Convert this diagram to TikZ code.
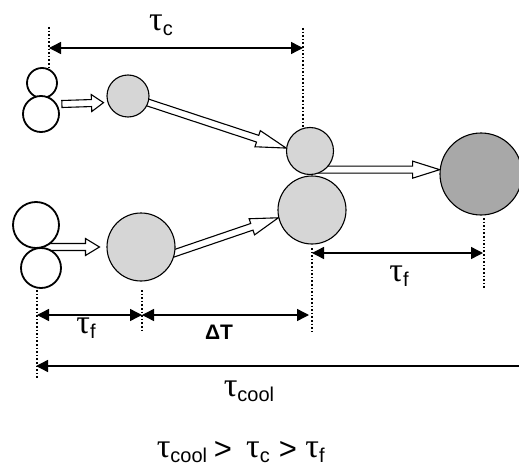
\documentclass[tikz,border=0pt]{standalone}
\usepackage{fontspec}
\setmainfont{Liberation Sans}
\newfontfamily\grkfont{Liberation Serif}
\usetikzlibrary{arrows.meta,calc,backgrounds}
\definecolor{lightball}{gray}{0.84}
\definecolor{darkball}{gray}{0.66}
\newcommand\tlab[1]{{\fontsize{34}{34}\grkfont τ}\raisebox{-5pt}{\fontsize{20}{20}\selectfont #1}}
\newcommand\gtr{{\fontsize{31}{31}\selectfont >}}
\newcommand\hollowarrow[3]{%
  \coordinate (ha) at (#1);
  \coordinate (hb) at (#2);
  \coordinate (hn) at ($(hb)!#3!(ha)$);
  \draw[hollow] ($(ha)!3.5pt!90:(hb)$) -- ($(hn)!3.5pt!-90:(ha)$) -- ($(hn)!8.5pt!-90:(ha)$) -- (hb)
    -- ($(hn)!8.5pt!90:(ha)$) -- ($(hn)!3.5pt!90:(ha)$) -- ($(ha)!3.5pt!-90:(hb)$) -- cycle;
}
\begin{document}
\begin{tikzpicture}[x=1pt,y=-1pt,
  >={Triangle[length=12pt,width=12pt]},
  seed/.style={circle,draw,line width=1.8pt,fill=white,inner sep=0pt},
  ball/.style={circle,draw,line width=1.1pt,fill=lightball,inner sep=0pt},
  hollow/.style={draw,line width=1.1pt,fill=white,line join=miter},
  guide/.style={dotted,line width=1.6pt},
  span/.style={line width=1.4pt},
  lab/.style={inner sep=0pt},
  rel/.style={inner sep=0pt,anchor=base}
]
  \useasboundingbox (0,0) rectangle (519,468);

  \node[seed,minimum size=30pt] (pa1) at (42,83) {};
  \node[seed,minimum size=36pt] (pa2) at (41,114) {};
  \node[seed,minimum size=46pt] (pb1) at (36,225) {};
  \node[seed,minimum size=40pt] (pb2) at (41,268) {};
  \node[ball,minimum size=42pt] (s1) at (128,96) {};
  \node[ball,minimum size=68pt] (s2) at (141,247) {};
  \node[ball,minimum size=47pt] (m1) at (310,151) {};
  \node[ball,minimum size=68pt] (m2) at (312,210) {};
  \node[ball,fill=darkball,minimum size=82pt] (D) at (481,174) {};

  \begin{scope}[on background layer]
    \hollowarrow{$(pa2.east)+(2,-10)$}{$(s1.198)+(-4,0)$}{12pt}
    \hollowarrow{s1.center}{m1.173}{30pt}
    \hollowarrow{pb1.center |- s2.west}{$(s2.west)+(-7,0)$}{14pt}
    \hollowarrow{$(s2.-10)!-8pt!(m2.193)$}{m2.193}{28pt}
    \hollowarrow{m1.center |- D.174}{D.174}{27pt}
  \end{scope}

  \coordinate (gA) at (49,27);   \coordinate (gAe) at (49,68);
  \coordinate (gB) at (303,28);  \coordinate (gBe) at (303,127);
  \coordinate (gC) at (37,290);  \coordinate (gCe) at (37,378);
  \coordinate (gD) at (142,290); \coordinate (gDe) at (142,333);
  \coordinate (gE) at (312,248); \coordinate (gEe) at (312,334);
  \coordinate (gF) at (484,218); \coordinate (gFe) at (484,289);
  \foreach \g in {A,...,F}
    \draw[guide] (g\g) -- (g\g e);

  \coordinate (cL) at (49,48);   \coordinate (cR) at (303,48);
  \coordinate (fL) at (37,315);  \coordinate (fM) at (142,315);
  \coordinate (fR) at (309,315);
  \coordinate (rL) at (312,253); \coordinate (rR) at (483,253);
  \coordinate (kL) at (36,366);  \coordinate (kR) at (519,366);

  \draw[span,<->] (cL) -- (cR);
  \draw[span,<->] (fL) -- (fM);
  \draw[span,<->] (fM) -- (fR);
  \draw[span,<->] (rL) -- (rR);
  \draw[span,->] (kR) -- (kL);

  \node[lab] (tc) at (161,25) {\tlab{c}};
  \node[lab] (tf1) at (86,328) {\tlab{f}};
  \node[lab] (dT) at (219,332) {\bfseries\fontsize{21}{21}\selectfont ΔT};
  \node[lab] (tf2) at (399,276) {\tlab{f}};
  \node[lab] (tcool) at (249,391) {\tlab{cool}};

  \node[rel] (r1) at (182,457) {\tlab{cool}};
  \node[rel] (r2) at (223,459) {\gtr};
  \node[rel] (r3) at (258,457) {\tlab{c}};
  \node[rel] (r4) at (288,459) {\gtr};
  \node[rel] (r5) at (315,457) {\tlab{f}};
\end{tikzpicture}
\end{document}
